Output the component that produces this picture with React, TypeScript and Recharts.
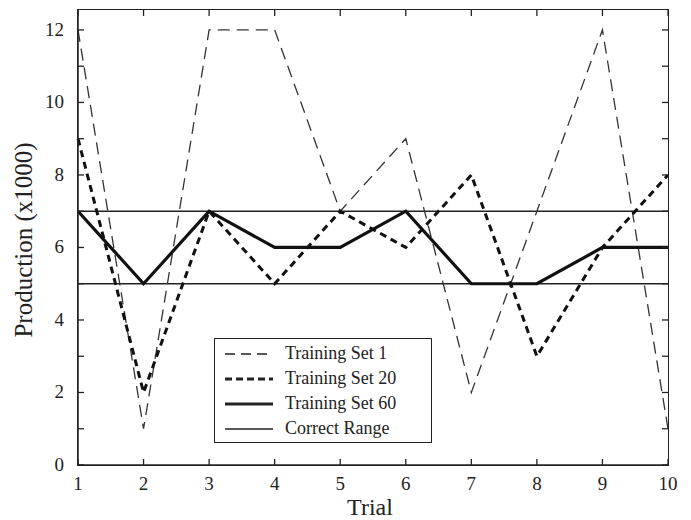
import { LineChart, Line, XAxis, YAxis, ReferenceLine } from 'recharts';

const trials = [1, 2, 3, 4, 5, 6, 7, 8, 9, 10];
const trainingSet1 = [12, 1, 12, 12, 7, 9, 2, 7, 12, 1];
const trainingSet20 = [9, 2, 7, 5, 7, 6, 8, 3, 6, 8];
const trainingSet60 = [7, 5, 7, 6, 6, 7, 5, 5, 6, 6];
const correctRange = [5, 7];
const yTicks = [0, 1, 2, 3, 4, 5, 6, 7, 8, 9, 10, 11, 12];
const yMax = 12.55;

const data = trials.map((t, i) => ({
  trial: t,
  set1: trainingSet1[i],
  set20: trainingSet20[i],
  set60: trainingSet60[i],
}));

const FONT = '"Liberation Serif", "Times New Roman", serif';
const INK = '#222';

// plot box edges (px), used for the frame and the inward tick marks on all four sides
const BOX = { left: 78, right: 668, top: 10, bottom: 465 };
const TICK = 6;

const legendItems = [
  { label: 'Training Set 1', width: 1.3, dash: '10 6' },
  { label: 'Training Set 20', width: 3, dash: '7 4' },
  { label: 'Training Set 60', width: 3.2, dash: undefined },
  { label: 'Correct Range', width: 1.3, dash: undefined },
];

const ChartLegend = () => (
  <div
    style={{
      position: 'absolute',
      left: 214,
      top: 338,
      boxSizing: 'border-box',
      width: 218,
      height: 105,
      border: `1.5px solid ${INK}`,
      background: '#fff',
      padding: '2px 10px',
      fontFamily: FONT,
      fontSize: 18,
      color: INK,
    }}
  >
    {legendItems.map((it) => (
      <div key={it.label} style={{ display: 'flex', alignItems: 'center', height: 25 }}>
        <svg width={48} height={10} style={{ marginRight: 12 }}>
          <line
            x1={0}
            y1={5}
            x2={48}
            y2={5}
            stroke={INK}
            strokeWidth={it.width}
            strokeDasharray={it.dash}
          />
        </svg>
        <span>{it.label}</span>
      </div>
    ))}
  </div>
);

const XTick = (props: any) => {
  const x = props.payload.coordinate;
  return (
    <g>
      <line x1={x} y1={BOX.bottom} x2={x} y2={BOX.bottom - TICK} stroke={INK} strokeWidth={1.3} />
      <line x1={x} y1={BOX.top} x2={x} y2={BOX.top + TICK} stroke={INK} strokeWidth={1.3} />
      <text x={x} y={BOX.bottom + 25} textAnchor="middle" fontFamily={FONT} fontSize={19} fill={INK}>
        {props.payload.value}
      </text>
    </g>
  );
};

const YTick = (props: any) => {
  const y = props.payload.coordinate;
  const v = props.payload.value;
  return (
    <g>
      <line x1={BOX.left} y1={y} x2={BOX.left + TICK} y2={y} stroke={INK} strokeWidth={1.3} />
      <line x1={BOX.right} y1={y} x2={BOX.right - TICK} y2={y} stroke={INK} strokeWidth={1.3} />
      {v % 2 === 0 && (
        <text x={BOX.left - 14} y={y + 6} textAnchor="end" fontFamily={FONT} fontSize={19} fill={INK}>
          {v}
        </text>
      )}
    </g>
  );
};

export default function App() {
  return (
    <div style={{ position: 'absolute', left: 0, top: 0, width: 691, height: 520, background: '#fff' }}>
      <LineChart
        width={691}
        height={520}
        data={data}
        margin={{ top: BOX.top, right: 691 - BOX.right, bottom: 0, left: 0 }}
      >
        <XAxis
          dataKey="trial"
          type="number"
          domain={[1, 10]}
          ticks={trials}
          height={520 - BOX.bottom}
          tickLine={false}
          stroke={INK}
          strokeWidth={1.5}
          tick={<XTick />}
          label={{
            value: 'Trial',
            content: () => (
              <text x={370} y={515} textAnchor="middle" fontFamily={FONT} fontSize={24} fill={INK}>
                Trial
              </text>
            ),
          }}
        />
        <YAxis
          type="number"
          domain={[0, yMax]}
          ticks={yTicks}
          width={BOX.left}
          tickLine={false}
          stroke={INK}
          strokeWidth={1.5}
          tick={<YTick />}
          label={{
            value: 'Production (x1000)',
            content: () => (
              <text
                x={24}
                y={240}
                transform="rotate(-90 24 240)"
                dy={8}
                textAnchor="middle"
                fontFamily={FONT}
                fontSize={25}
                fill={INK}
              >
                Production (x1000)
              </text>
            ),
          }}
        />
        {correctRange.map((v) => (
          <ReferenceLine key={v} y={v} stroke={INK} strokeWidth={1.5} />
        ))}
        <Line
          dataKey="set1"
          type="linear"
          stroke="#333"
          strokeWidth={1.3}
          strokeDasharray="12 7"
          dot={false}
          isAnimationActive={false}
        />
        <Line
          dataKey="set20"
          type="linear"
          stroke="#111"
          strokeWidth={3}
          strokeDasharray="7 5"
          dot={false}
          isAnimationActive={false}
        />
        <Line
          dataKey="set60"
          type="linear"
          stroke="#111"
          strokeWidth={3.2}
          dot={false}
          isAnimationActive={false}
        />
      </LineChart>
      <div
        style={{
          position: 'absolute',
          left: BOX.left - 0.75,
          top: BOX.top - 0.75,
          width: BOX.right - BOX.left + 1.5,
          height: BOX.bottom - BOX.top + 1.5,
          boxSizing: 'border-box',
          border: `1.5px solid ${INK}`,
          pointerEvents: 'none',
        }}
      />
      <ChartLegend />
    </div>
  );
}
